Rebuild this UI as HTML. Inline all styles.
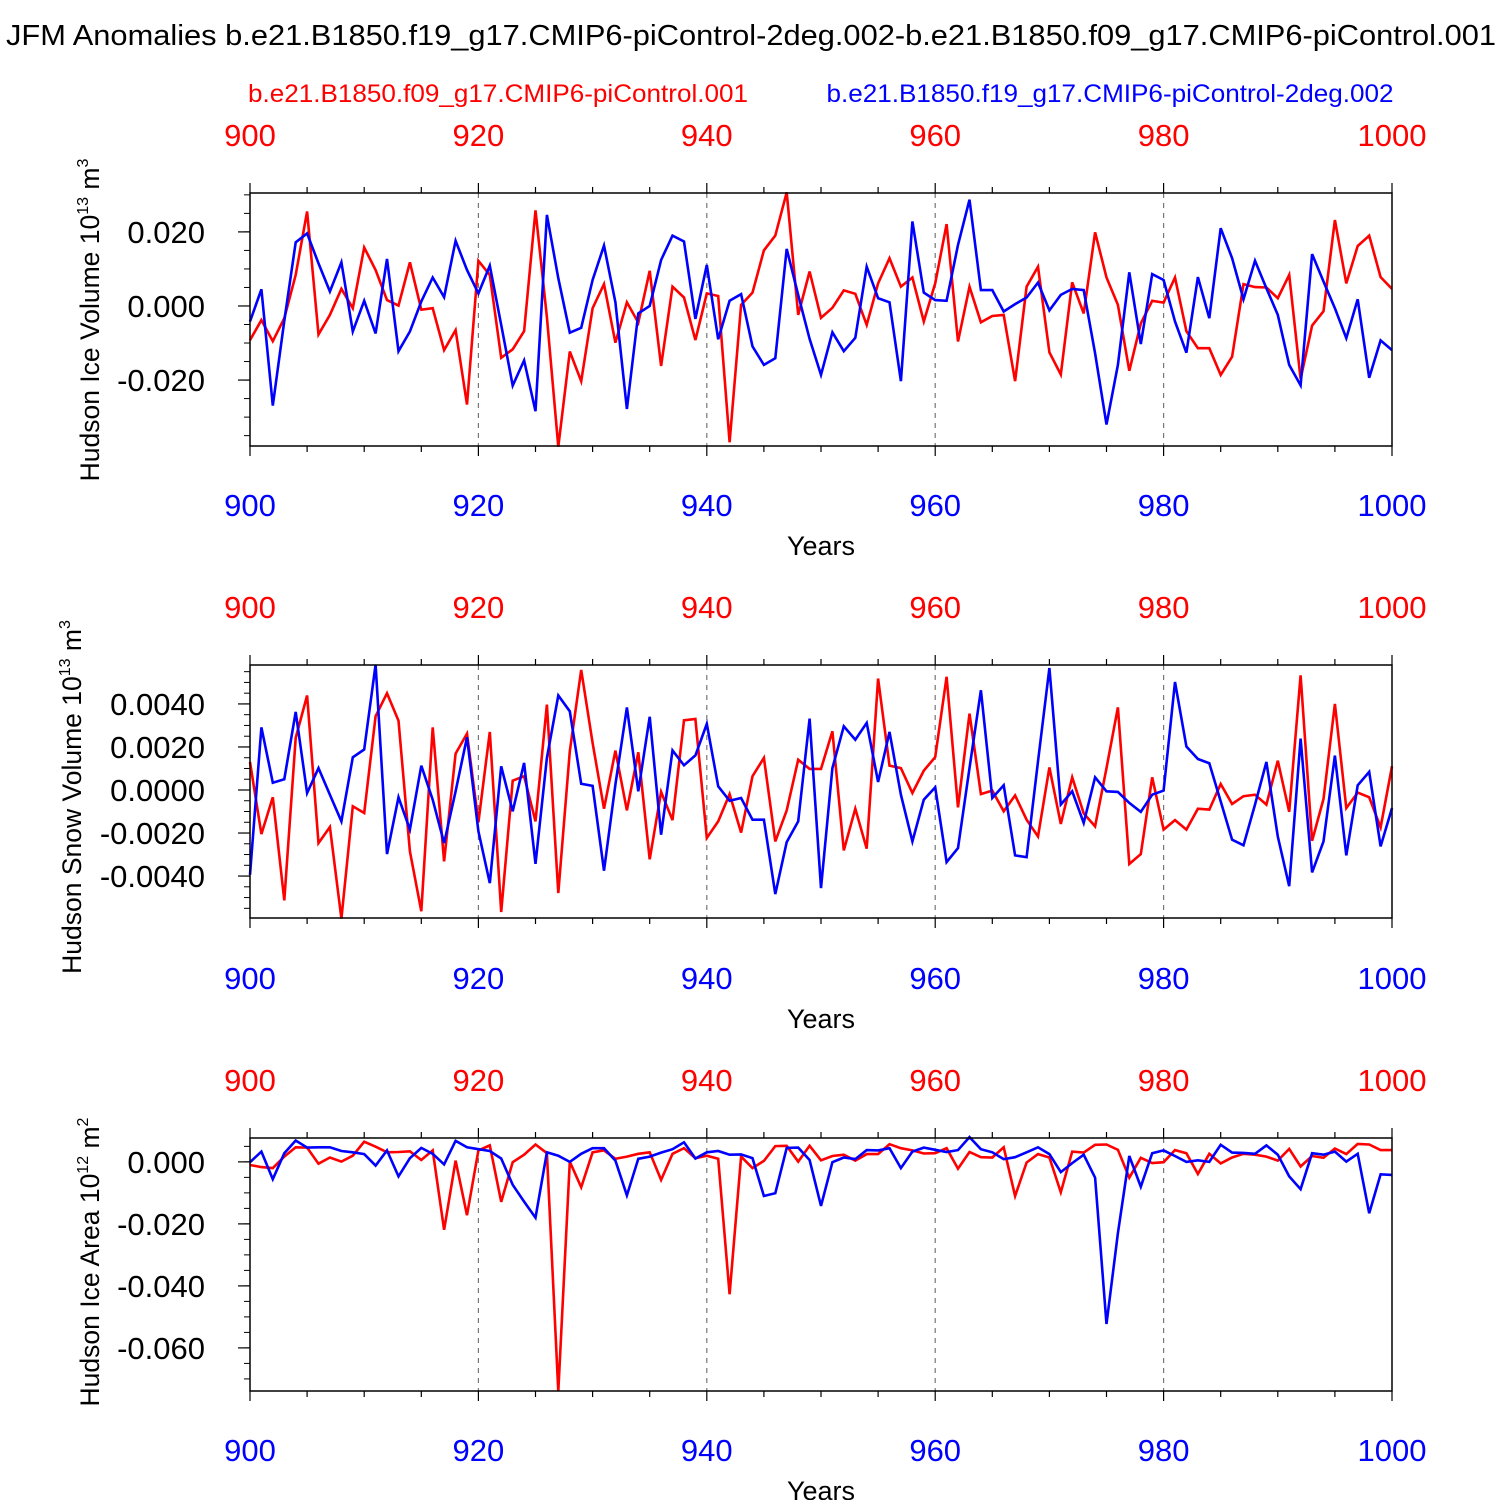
<!DOCTYPE html>
<html><head><meta charset="utf-8">
<style>
html,body{margin:0;padding:0;background:#fff;}
svg text{font-family:"Liberation Sans",Arial,sans-serif;}
</style></head>
<body>
<svg id="chart" width="1500" height="1500" viewBox="0 0 1500 1500" xmlns="http://www.w3.org/2000/svg">
<text x="751" y="45" font-size="29" text-anchor="middle" textLength="1490" lengthAdjust="spacingAndGlyphs">JFM Anomalies b.e21.B1850.f19_g17.CMIP6-piControl-2deg.002-b.e21.B1850.f09_g17.CMIP6-piControl.001</text>
<text x="498" y="102" font-size="25" fill="#ff0000" text-anchor="middle" textLength="500" lengthAdjust="spacingAndGlyphs">b.e21.B1850.f09_g17.CMIP6-piControl.001</text>
<text x="1110" y="102" font-size="25" fill="#0000ff" text-anchor="middle" textLength="567" lengthAdjust="spacingAndGlyphs">b.e21.B1850.f19_g17.CMIP6-piControl-2deg.002</text>
<g id="panels"></g>
</svg>
<script>
const years = [];
for (let y = 900; y <= 1000; y++) years.push(y);
const xTicks = [900, 920, 940, 960, 980, 1000];

// values in thousandths (1e-3) of plotted units
const iceVolRed = [-9.2,-3.8,-9.5,-3.3,8.4,25.5,-7.7,-2.4,4.6,-0.6,15.8,9.7,1.6,0.1,11.8,-1.0,-0.6,-11.9,-6.5,-26.6,12.2,8.4,-14.0,-11.7,-6.8,25.8,-3,-38.0,-12.3,-20.3,-0.6,5.9,-9.9,1.0,-4.5,9.5,-16.2,5.2,2.3,-9.2,3.4,2.7,-36.8,0.3,3.6,15.0,19.0,30.7,-2.4,9.3,-3.2,-0.5,4.2,3.3,-5.1,6.1,12.9,5.2,7.7,-4.2,6.1,22.1,-9.6,5.2,-4.4,-2.7,-2.4,-20.3,5.2,10.6,-12.5,-18.5,6.4,-2.0,19.9,7.7,0.3,-17.5,-4.7,1.4,0.9,7.7,-6.8,-11.4,-11.4,-18.6,-13.7,5.9,5.1,5.0,2.1,8.4,-19.7,-5.3,-1.4,23.2,6.1,16.2,19.0,7.8,4.6];
const iceVolBlue = [-4.2,4.5,-26.9,-4,17.2,19.6,11.5,3.9,11.8,-6.9,1.4,-7.4,12.7,-12.2,-6.9,1.2,7.7,2.4,17.6,9.7,3.4,10.9,-5.1,-21.5,-14.7,-28.4,24.6,7.5,-7.2,-5.9,7.0,16.3,1.0,-27.8,-2.0,0,12.4,19.0,17.4,-3.5,11.1,-9.0,1.4,3.2,-10.9,-15.9,-14.1,15.4,3,-8.9,-18.6,-7.1,-12.2,-8.6,10.6,2.1,1.0,-20.3,22.8,3.6,1.6,1.4,16.5,28.7,4.3,4.3,-1.5,0.5,2.3,6.3,-1.2,3.0,4.6,4.3,-12.8,-32.0,-15.9,9.1,-10.3,8.6,7.0,-4.2,-12.6,7.8,-3.3,21.0,12.9,1.8,12.2,4.8,-2.4,-15.9,-21.4,14.0,6.6,-0.6,-8.7,1.8,-19.4,-9.3,-11.9];
const snowRed = [1.30,-2.05,-0.34,-5.13,2.42,4.39,-2.47,-1.72,-5.98,-0.76,-1.07,3.43,4.50,3.22,-2.85,-5.64,2.91,-3.32,1.69,2.62,-1.50,2.70,-5.67,0.43,0.64,-1.46,3.97,-4.79,1.80,5.58,2.19,-0.87,1.83,-0.95,1.75,-3.22,-0.09,-1.40,3.24,3.30,-2.23,-1.46,-0.19,-1.98,0.64,1.49,-2.39,-0.95,1.41,0.98,0.98,2.73,-2.81,-0.87,-2.73,5.18,1.13,1.02,-0.14,0.90,1.53,5.26,-0.81,3.55,-0.19,-0.03,-0.99,-0.25,-1.38,-2.16,1.05,-1.58,0.59,-1.09,-1.69,1.02,3.84,-3.44,-2.98,0.59,-1.84,-1.40,-1.84,-0.87,-0.91,0.28,-0.65,-0.29,-0.22,-0.68,1.36,-1.02,5.33,-2.36,-0.42,4.00,-0.84,-0.12,-0.34,-1.74,1.10];
const snowBlue = [-3.94,2.91,0.34,0.50,3.63,-0.14,1.02,-0.22,-1.46,1.52,1.88,5.83,-2.98,-0.34,-1.84,1.13,-0.45,-2.47,-0.06,2.45,-1.92,-4.33,1.10,-0.99,1.26,-3.43,1.49,4.39,3.66,0.29,0.19,-3.75,0.25,3.84,-0.06,3.40,-2.08,1.84,1.15,1.61,3.07,0.17,-0.50,-0.37,-1.38,-1.38,-4.84,-2.42,-1.46,3.32,-4.56,1.02,2.96,2.34,3.12,0.37,2.70,-0.22,-2.39,-0.45,0.12,-3.35,-2.70,1.02,4.64,-0.37,0.22,-3.04,-3.12,1.33,5.67,-0.68,-0.06,-1.53,0.59,-0.06,-0.09,-0.60,-1.02,-0.22,-0.03,5.02,2.02,1.44,1.24,-0.53,-2.31,-2.57,-0.68,1.30,-2.16,-4.47,2.39,-3.83,-2.39,1.60,-3.04,0.22,0.84,-2.62,-0.84];
const areaRed = [-1.0,-1.7,-2.0,1.7,4.7,4.6,-0.6,1.4,0.1,2.0,6.5,4.9,3.1,3.2,3.4,0.6,3.7,-21.9,0.4,-17.2,3.7,5.3,-12.9,-0.1,2.3,5.6,2.8,-74,0.1,-8.2,3.1,3.7,1.0,1.7,2.6,3.1,-5.8,2.6,4.4,1.2,2.0,1.0,-42.7,1.7,-2.0,0.3,5.1,5.2,0.1,5.2,0.5,1.9,2.3,0.4,2.5,2.5,5.7,4.4,3.7,2.7,2.8,4.4,-2.2,3.2,1.5,1.4,4.7,-11.0,-0.2,2.5,1.4,-9.8,3.3,3.0,5.5,5.6,3.9,-5.1,1.3,-0.4,-0.1,3.8,2.8,-3.9,2.6,-0.5,1.4,2.6,2.3,1.7,0.4,4.2,-1.5,1.9,1.3,4.3,2.5,5.8,5.6,3.8,3.8];
const areaBlue = [-0.1,3.3,-5.6,2.8,6.9,4.6,4.7,4.7,3.5,3.1,2.5,-1.2,3.7,-4.7,1.2,4.5,2.6,-0.8,6.8,4.7,4.1,3.5,1.1,-7.4,-12.8,-18.0,3.1,2.0,0,2.6,4.4,4.4,0.4,-10.8,1.0,1.7,3.0,4.1,6.3,1.1,3.1,3.5,2.3,2.4,1.2,-11.0,-10.1,4.5,4.6,0.6,-14.2,-0.1,1.4,0.9,3.8,3.7,4.4,-2.0,3.3,4.6,3.9,3.2,3.8,8.0,4.1,3.1,0.9,1.5,3.1,4.7,2.5,-3.3,-0.4,2.3,-5.1,-52.3,-23.0,1.9,-8.0,2.8,3.7,1.9,0,0.5,0,5.5,3.0,2.9,2.6,5.3,2.3,-4.7,-8.8,2.8,2.3,3.3,0.1,2.6,-16.6,-4.0,-4.2];

const ticks1 = [-20, 0, 20];
const tickLabels1 = ["-0.020", "0.000", "0.020"];
const ticks2 = [-4, -2, 0, 2, 4];
const tickLabels2 = ["-0.0040", "-0.0020", "0.0000", "0.0020", "0.0040"];
const ticks3 = [-60, -40, -20, 0];
const tickLabels3 = ["-0.060", "-0.040", "-0.020", "0.000"];

const NS = "http://www.w3.org/2000/svg";
const root = document.getElementById("panels");
const X0 = 250, X1 = 1392;
function xScale(yr){ return X0 + (yr - 900) * (X1 - X0) / 100; }
function mk(tag, attrs, parent){
  const e = document.createElementNS(NS, tag);
  for (const k in attrs) e.setAttribute(k, attrs[k]);
  (parent || root).appendChild(e);
  return e;
}

const panels = [
  {name:"ice-volume", top:193, bot:446, vmin:-37.8, vmax:30.5, ticks:ticks1, labels:tickLabels1, minor:5, red:iceVolRed, blue:iceVolBlue, title:"Hudson Ice Volume 10", sup:"13", unit:" m", usup:"3", tx:99, ty:320, topLab:135, botLab:505, yearsY:545},
  {name:"snow-volume", top:665, bot:918, vmin:-5.95, vmax:5.81, ticks:ticks2, labels:tickLabels2, minor:0.5, red:snowRed, blue:snowBlue, title:"Hudson Snow Volume 10", sup:"13", unit:" m", usup:"3", tx:81, ty:797, topLab:607, botLab:978, yearsY:1018},
  {name:"ice-area", top:1138, bot:1391, vmin:-73.9, vmax:7.7, ticks:ticks3, labels:tickLabels3, minor:5, red:areaRed, blue:areaBlue, title:"Hudson Ice Area 10", sup:"12", unit:" m", usup:"2", tx:99, ty:1262, topLab:1080, botLab:1450, yearsY:1490}
];

panels.forEach(p => {
  const g = mk("g", {});
  
  
  const yS = v => p.bot - (v - p.vmin) * (p.bot - p.top) / (p.vmax - p.vmin);
  [920, 940, 960, 980].forEach(yr => {
    const l = mk("line", {x1:xScale(yr), x2:xScale(yr), y1:p.top, y2:p.bot, stroke:"#777", "stroke-width":1.2, "stroke-dasharray":"5,5"}, g);
    
    
  });
  for (let yr = 900; yr <= 1000; yr += 5) {
    const major = yr % 20 === 0;
    const len = major ? 10 : 6;
    mk("line", {x1:xScale(yr), x2:xScale(yr), y1:p.top, y2:p.top-len, stroke:"#000", "stroke-width":1.2}, g);
    mk("line", {x1:xScale(yr), x2:xScale(yr), y1:p.bot, y2:p.bot+len, stroke:"#000", "stroke-width":1.2}, g);
  }
  const start = Math.ceil(p.vmin / p.minor) * p.minor;
  for (let v = start; v <= p.vmax + 1e-9; v += p.minor) {
    mk("line", {x1:X0, x2:X0-6, y1:yS(v), y2:yS(v), stroke:"#000", "stroke-width":1}, g);
  }
  p.ticks.forEach((v, i) => {
    mk("line", {x1:X0, x2:X0-12, y1:yS(v), y2:yS(v), stroke:"#000", "stroke-width":1.2}, g);
    const t = mk("text", {x:205, y:yS(v)+11, "font-size":31, "text-anchor":"end"}, g);
    
    
    t.textContent = p.labels[i];
  });
  xTicks.forEach(yr => {
    const t1 = mk("text", {x:xScale(yr), y:p.topLab+11, "font-size":31, "text-anchor":"middle", fill:"#ff0000"}, g);
    
    
    t1.textContent = yr;
    const t2 = mk("text", {x:xScale(yr), y:p.botLab+11, "font-size":31, "text-anchor":"middle", fill:"#0000ff"}, g);
    
    
    t2.textContent = yr;
  });
  const xt = mk("text", {x:821, y:p.yearsY+10, "font-size":27, "text-anchor":"middle"}, g);
  
  
  xt.textContent = "Years";
  const yt = mk("text", {x:0, y:0, "font-size":26.5, "text-anchor":"middle", transform:`translate(${p.tx},${p.ty}) rotate(-90)`}, g);
  
  
  yt.appendChild(document.createTextNode(p.title));
  const s1 = mk("tspan", {"font-size":16, dy:-11}, yt); s1.textContent = p.sup;
  const s2 = mk("tspan", {dy:11}, yt); s2.textContent = p.unit;
  const s3 = mk("tspan", {"font-size":16, dy:-11}, yt); s3.textContent = p.usup;
  [["red", p.red, "#ff0000"], ["blue", p.blue, "#0000ff"]].forEach(([nm, arr, col]) => {
    const pts = arr.map((v, i) => xScale(years[i]).toFixed(1) + "," + yS(v).toFixed(1)).join(" ");
    const pl = mk("polyline", {points:pts, fill:"none", stroke:col, "stroke-width":2.6, "stroke-linejoin":"miter"}, g);
    
    
  });
  const box = mk("rect", {x:X0, y:p.top, width:X1-X0, height:p.bot-p.top, fill:"none", stroke:"#000", "stroke-width":1.5}, g);
  
  
});
</script>
</body></html>
